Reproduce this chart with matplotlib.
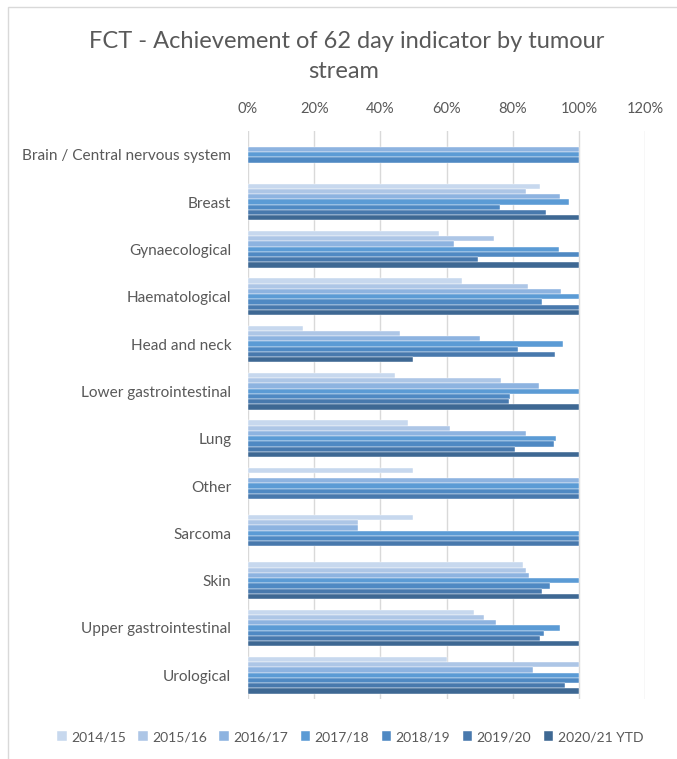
import numpy as np
import matplotlib
matplotlib.use("Agg")
import matplotlib.pyplot as plt
from matplotlib.patches import Rectangle

nan = np.nan

streams = ['Brain / Central nervous system', 'Breast', 'Gynaecological',
           'Haematological', 'Head and neck', 'Lower gastrointestinal', 'Lung',
           'Other', 'Sarcoma', 'Skin', 'Upper gastrointestinal', 'Urological']

years = ['2014/15', '2015/16', '2016/17', '2017/18', '2018/19', '2019/20',
         '2020/21 YTD']

# achievement (%) per stream, one list per year
y1415 = [nan, 88.4, 57.8, 64.8, 16.6, 44.4, 48.5, 50.0, 50.0, 83.1, 68.4, 60.0]
y1516 = [nan, 84.1, 74.4, 84.7, 46.0, 76.6, 61.0, nan, 33.3, 83.9, 71.4, 100.0]
y1617 = [100.0, 94.2, 62.3, 94.6, 70.0, 88.1, 84.1, 100.0, 33.3, 84.9, 74.9, 86.0]
y1718 = [100.0, 97.1, 94.1, 100.0, 95.2, 100.0, 93.1, 100.0, 100.0, 100.0, 94.3, 100.0]
y1819 = [100.0, 76.1, 100.0, 88.9, 81.7, 79.1, 92.4, 100.0, 100.0, 91.2, 89.4, 100.0]
y1920 = [nan, 90.2, 69.4, 100.0, 92.9, 79.0, 80.7, 100.0, 100.0, 88.9, 88.4, 95.7]
y2021 = [nan, 100.0, 100.0, 100.0, 50.0, 100.0, 100.0, nan, nan, 100.0, 100.0, 100.0]

series = [y1415, y1516, y1617, y1718, y1819, y1920, y2021]
colors = ['#c7d8ee', '#adc6e6', '#8db3e0', '#5b9bd5', '#4f89c3', '#4879ad', '#3e6893']

plt.rcParams['font.family'] = ['Lato', 'DejaVu Sans']

fig = plt.figure(figsize=(6.77, 7.59), dpi=100)
# chart frame (only left/top visible in the reference)
fig.patches.append(Rectangle((8 / 677, -0.01), 1.0, 1 - 7 / 759 + 0.01,
                             transform=fig.transFigure, fill=False,
                             edgecolor='#d9d9d9', linewidth=1.0))

ax = fig.add_axes([248 / 677, 1 - 699 / 759, (645 - 248) / 677, (699 - 131) / 759])

n = len(years)
bar_h = 0.111
pos = np.arange(len(streams))
for i, (vals, col) in enumerate(zip(series, colors)):
    offs = (i - (n - 1) / 2) * bar_h
    ax.barh(pos + offs, vals, height=bar_h, color=col, edgecolor='white',
            linewidth=0.3, label=years[i], zorder=3)

ax.set_xlim(0, 120)
ax.set_ylim(len(streams) - 0.5, -0.5)
ax.set_xticks(np.arange(0, 121, 20))
ax.set_xticklabels([f'{v}%' for v in range(0, 121, 20)])
ax.xaxis.tick_top()
ax.set_yticks(pos)
ax.set_yticklabels(streams)
ax.tick_params(axis='x', length=0, pad=11, labelsize=10.5, labelcolor='#595959')
ax.tick_params(axis='y', length=0, pad=12, labelsize=11.1, labelcolor='#595959')
ax.grid(axis='x', color='#d9d9d9', linewidth=1.0, zorder=0)
for s in ax.spines.values():
    s.set_visible(False)

fig.text(347 / 677, 1 - 42 / 759, 'FCT - Achievement of 62 day indicator by tumour',
         ha='center', va='center', fontsize=17, color='#595959')
fig.text(344 / 677, 1 - 72 / 759, 'stream', ha='center', va='center',
         fontsize=17, color='#595959')

handles, labels = ax.get_legend_handles_labels()
fig.legend(handles, labels, loc='center', bbox_to_anchor=(350 / 677, 1 - 737 / 759),
           ncol=7, frameon=False, fontsize=10, labelcolor='#595959',
           handlelength=0.7, handleheight=0.7, handletextpad=0.3,
           columnspacing=0.9)

fig.savefig('out.png', dpi=100)
